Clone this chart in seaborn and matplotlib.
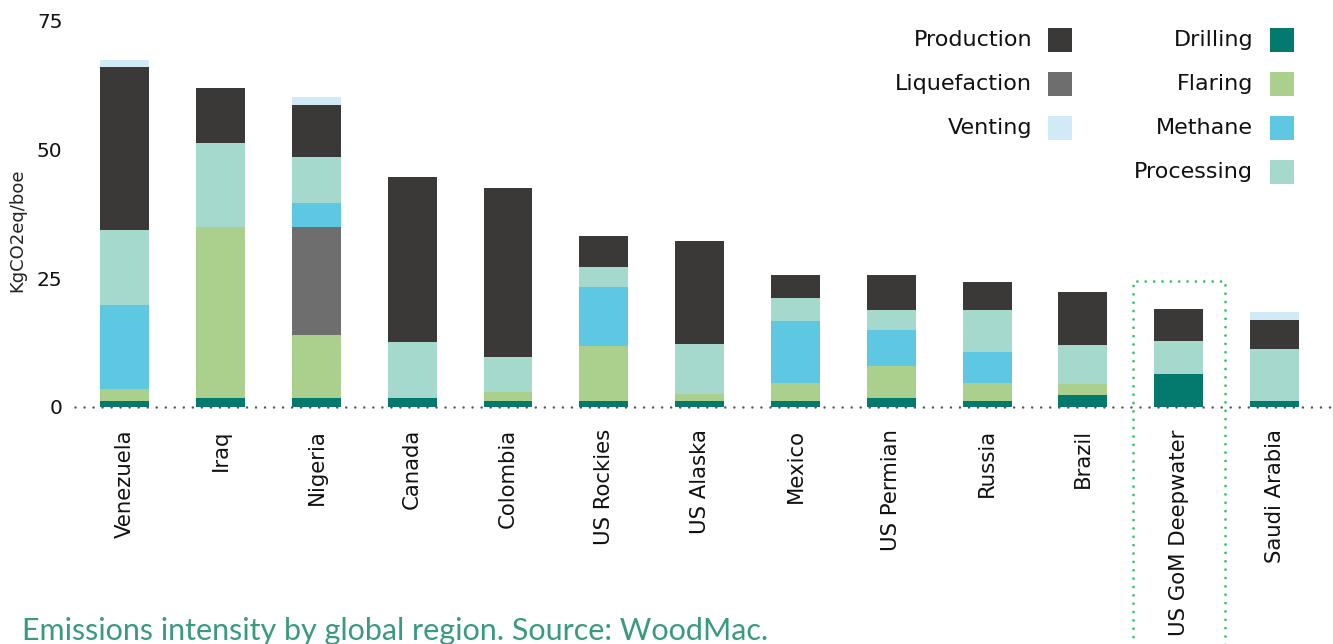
import matplotlib
matplotlib.use("Agg")
import matplotlib.pyplot as plt
from matplotlib.patches import Rectangle
import seaborn as sns
import pandas as pd
import numpy as np

regions = ["Venezuela", "Iraq", "Nigeria", "Canada", "Colombia", "US Rockies",
           "US Alaska", "Mexico", "US Permian", "Russia", "Brazil",
           "US GoM Deepwater", "Saudi Arabia"]

# stack order from bottom to top
drilling     = [1.2, 1.75, 1.75, 1.75, 1.2, 1.2, 1.2, 1.2, 1.75, 1.2, 2.3, 6.4, 1.2]
flaring      = [2.3, 33.3, 12.25, 0.0, 1.8, 10.7, 1.4, 3.5, 6.25, 3.5, 2.2, 0.0, 0.0]
liquefaction = [0.0, 0.0, 21.0, 0.0, 0.0, 0.0, 0.0, 0.0, 0.0, 0.0, 0.0, 0.0, 0.0]
methane      = [16.3, 0.0, 4.7, 0.0, 0.0, 11.45, 0.0, 12.0, 7.0, 6.0, 0.0, 0.0, 0.0]
processing   = [14.6, 16.2, 8.9, 10.9, 6.7, 3.9, 9.65, 4.5, 3.9, 8.2, 7.6, 6.4, 10.1]
production   = [31.7, 10.7, 10.15, 32.1, 32.9, 5.9, 20.05, 4.5, 6.8, 5.4, 10.3, 6.3, 5.6]
venting      = [1.4, 0.0, 1.55, 0.0, 0.0, 0.0, 0.0, 0.0, 0.0, 0.0, 0.0, 0.0, 1.6]

components = ["Drilling", "Flaring", "Liquefaction", "Methane", "Processing",
              "Production", "Venting"]
series = [drilling, flaring, liquefaction, methane, processing, production, venting]
colors = {"Drilling": "#047a6e", "Flaring": "#abcf8c", "Liquefaction": "#6e6e6e",
          "Methane": "#5ec8e3", "Processing": "#a6d9cd", "Production": "#3a3938",
          "Venting": "#d0eaf6"}

yticks = [0, 25, 50, 75]
caption = "Emissions intensity by global region. Source: WoodMac."
ylabel = "KgCO2eq/boe"

df = pd.DataFrame({"region": regions})
cum = np.zeros(len(regions))
for name, vals in zip(components, series):
    cum = cum + np.array(vals)
    df[name] = cum

sns.set_theme(style="white")
plt.rcParams["font.family"] = ["DejaVu Sans"]

W, H = 1333, 644
fig = plt.figure(figsize=(W / 100, H / 100), dpi=100)
ax = fig.add_axes([75 / W, 1 - 407 / H, 1257 / W, (407 - 21) / H])

# draw from top of stack to bottom so lower layers overlay
for name in reversed(components):
    sns.barplot(data=df, x="region", y=name, color=colors[name], width=0.51,
                saturation=1, linewidth=0, ax=ax, order=regions)

XL = (-0.52, 12.6)
ax.set_xlim(*XL)
ax.set_ylim(0, 75)
ax.set_yticks(yticks)
ax.set_yticklabels([str(t) for t in yticks], fontsize=14.5, color="#111111")
ax.tick_params(axis="y", length=0, pad=9)
ax.tick_params(axis="x", length=0, pad=16)
for lab in ax.get_xticklabels():
    lab.set_rotation(90)
    lab.set_fontsize(15.3)
    lab.set_color("#111111")
    lab.set_va("top")
    lab.set_ha("center")
ax.set_xlabel("")
ax.set_ylabel("")
for s in ax.spines.values():
    s.set_visible(False)

# dotted zero line
ax.plot(list(XL), [0, 0], color="#555555", lw=1.8,
        linestyle=(0, (0.01, 3.6)), dash_capstyle="round", clip_on=False, zorder=5)

# dotted green highlight box around US GoM Deepwater
gi = regions.index("US GoM Deepwater")
ax.plot([gi - 0.48, gi - 0.48, gi + 0.48, gi + 0.48], [-80, 24.5, 24.5, -80],
        color="#2ec46a", lw=2.0, linestyle=(0, (0.01, 3.0)), dash_capstyle="round",
        clip_on=False, zorder=5)

fig.text(17 / W, 1 - 230 / H, ylabel, rotation=90, fontsize=13,
         color="#222222", ha="center", va="center")

# legend
col1 = ["Production", "Liquefaction", "Venting"]
col2 = ["Drilling", "Flaring", "Methane", "Processing"]
for cols, text_right, sq_left in [(col1, 1032, 1048), (col2, 1253, 1270)]:
    for i, name in enumerate(cols):
        yc = 40 + 44 * i
        fig.text(text_right / W, 1 - yc / H, name, fontsize=16, color="#111111",
                 ha="right", va="center")
        fig.patches.append(Rectangle((sq_left / W, 1 - (yc + 12) / H), 24 / W, 24 / H,
                                     transform=fig.transFigure, facecolor=colors[name],
                                     edgecolor="none"))

fig.text(22 / W, 4 / H, caption, fontsize=22, color="#3a9a80",
         family=["Lato", "DejaVu Sans"], ha="left", va="baseline")

fig.savefig("out.png", dpi=100, facecolor="white")
